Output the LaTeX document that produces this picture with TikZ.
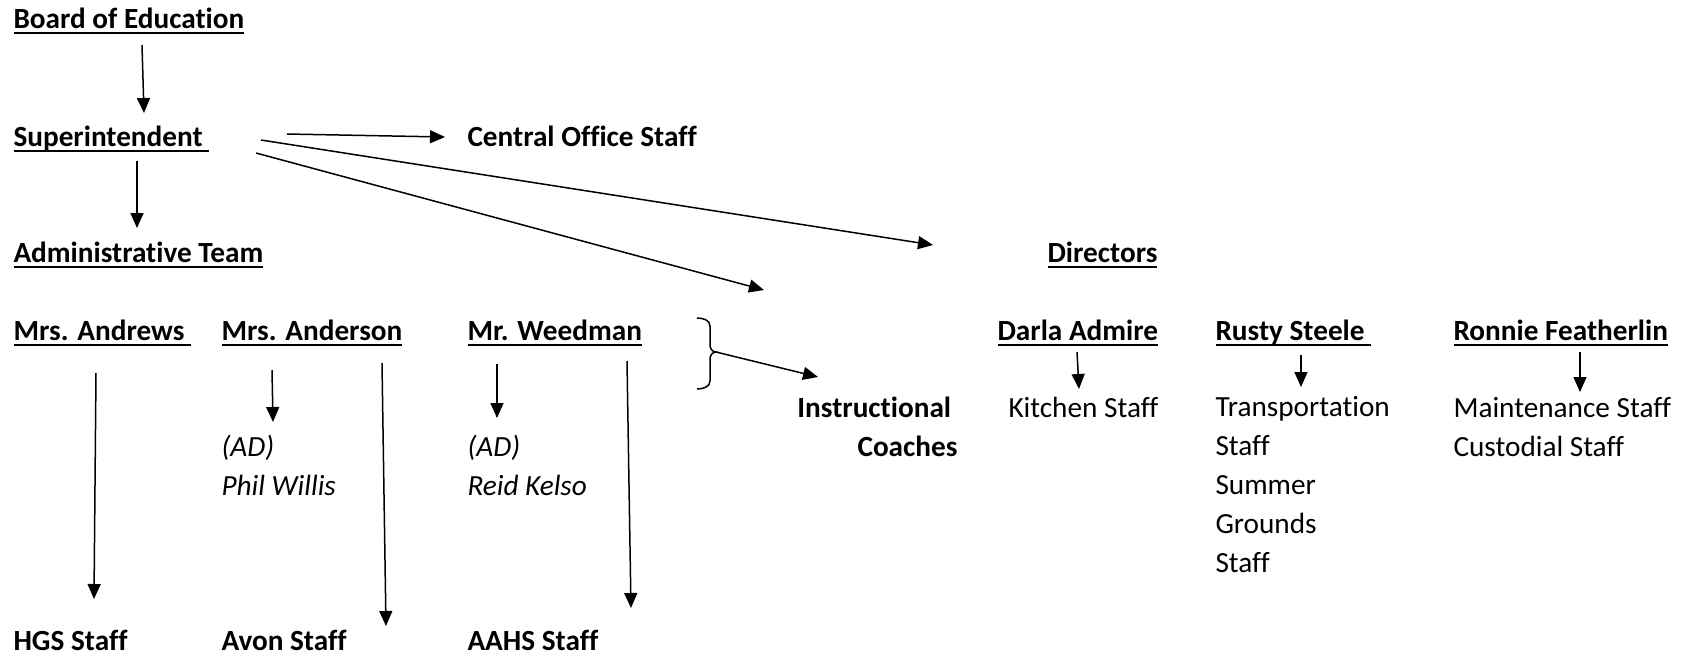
\documentclass[tikz,border=0pt]{standalone}
\usepackage{fontspec}
\setmainfont{Carlito}[Ligatures=NoCommon]
\usepackage{tikz}
\usetikzlibrary{arrows.meta}
\newcommand*\undl[1]{\setbox0\hbox{#1}\rlap{\rule[-2.3pt]{\wd0}{0.75pt}}\box0}

\begin{document}
\begin{tikzpicture}[x=0.4pt,y=-0.4pt,
  lbl/.style={inner sep=0pt,anchor=base west,font=\fontsize{11.7}{15.6}\selectfont},
  head/.style={lbl,font=\fontsize{11.7}{15.6}\selectfont\bfseries},
  arr/.style={line width=0.6pt,-{Triangle[length=6pt,width=5.2pt]}}]
\useasboundingbox (0,0) rectangle (1682,655);
%-------->top nodes<--------------
\node[head] (board) at (13,28) {\undl{Board of Education}};
\node[head] (super) at (13,146) {\undl{Superintendent\ }};
\node[head] (central) at (467,146) {Central Office Staff};
\node[head] (admin) at (13,262) {\undl{Administrative Team}};
\node[head] (directors) at (1047,262) {\undl{Directors}};
%-------->people<--------------
\node[head] (andrews) at (13,340) {\undl{Mrs. Andrews\ }};
\node[head] (anderson) at (221,340) {\undl{Mrs. Anderson}};
\node[head] (weedman) at (467,340) {\undl{Mr. Weedman}};
\node[head] (darla) at (997,340) {\undl{Darla Admire}};
\node[head] (rusty) at (1215,340) {\undl{Rusty Steele\ }};
\node[head] (ronnie) at (1453,340) {\undl{Ronnie Featherlin}};
%-------->staff (base = last line)<--------------
\node[head,anchor=base east,align=right] (coaches) at (958,456) {Instructional\hspace*{0.22em}\\Coaches};
\node[lbl] (kitchen) at (1008,417) {Kitchen Staff};
\node[lbl,align=left] (transport) at (1215,572) {Transportation\\Staff\\Summer\\Grounds\\Staff};
\node[lbl,align=left] (maint) at (1453,456) {Maintenance Staff\\Custodial Staff};
\node[lbl,align=left,font=\fontsize{11.7}{15.6}\selectfont\itshape] (phil) at (221,495) {(AD)\\Phil Willis};
\node[lbl,align=left,font=\fontsize{11.7}{15.6}\selectfont\itshape] (reid) at (467,495) {(AD)\\Reid Kelso};
\node[head] (hgs) at (13,650) {HGS Staff};
\node[head] (avon) at (221,650) {Avon Staff};
\node[head] (aahs) at (467,650) {AAHS Staff};
%-------->arrow ends<--------------
\coordinate (b1) at (142,45);   \coordinate (b2) at (144,113);
\coordinate (s1) at (137,161);  \coordinate (s2) at (137,228);
\coordinate (c1) at (287,134);  \coordinate (c2) at (445,137);
\coordinate (d1) at (261,140);  \coordinate (d2) at (933,245);
\coordinate (e1) at (256,153);  \coordinate (e2) at (764,290);
\coordinate (tip) at (716,352); \coordinate (i2) at (818,377);
\coordinate (a1) at (96,373);   \coordinate (a2) at (94,599);
\coordinate (p1) at (272,370);  \coordinate (p2) at (273,422);
\coordinate (v1) at (382,363);  \coordinate (v2) at (386,626);
\coordinate (r1) at (497,364);  \coordinate (r2) at (497,418);
\coordinate (h1) at (627,361);  \coordinate (h2) at (631,608);
\coordinate (k1) at (1077,352); \coordinate (k2) at (1079,389);
\coordinate (t1) at (1301,355); \coordinate (t2) at (1301,387);
\coordinate (m1) at (1580,352); \coordinate (m2) at (1580,392);
%------------->arrows<------------------
\draw[arr] (b1) -- (b2);
\draw[arr] (s1) -- (s2);
\draw[arr] (c1) -- (c2);
\draw[arr] (d1) -- (d2);
\draw[arr] (e1) -- (e2);
\draw[arr] (a1) -- (a2);
\draw[arr] (p1) -- (p2);
\draw[arr] (v1) -- (v2);
\draw[arr] (r1) -- (r2);
\draw[arr] (h1) -- (h2);
\draw[arr] (k1) -- (k2);
\draw[arr] (t1) -- (t2);
\draw[arr] (m1) -- (m2);
%------------->brace<------------------
\draw[line width=0.6pt] (697,318) to[out=0,in=90] (710,326) -- (710,345) to[out=-90,in=180] (tip)
  to[out=180,in=90] (710,359) -- (710,381) to[out=-90,in=0] (697,389);
\draw[arr] (tip) -- (i2);
\end{tikzpicture}
\end{document}
